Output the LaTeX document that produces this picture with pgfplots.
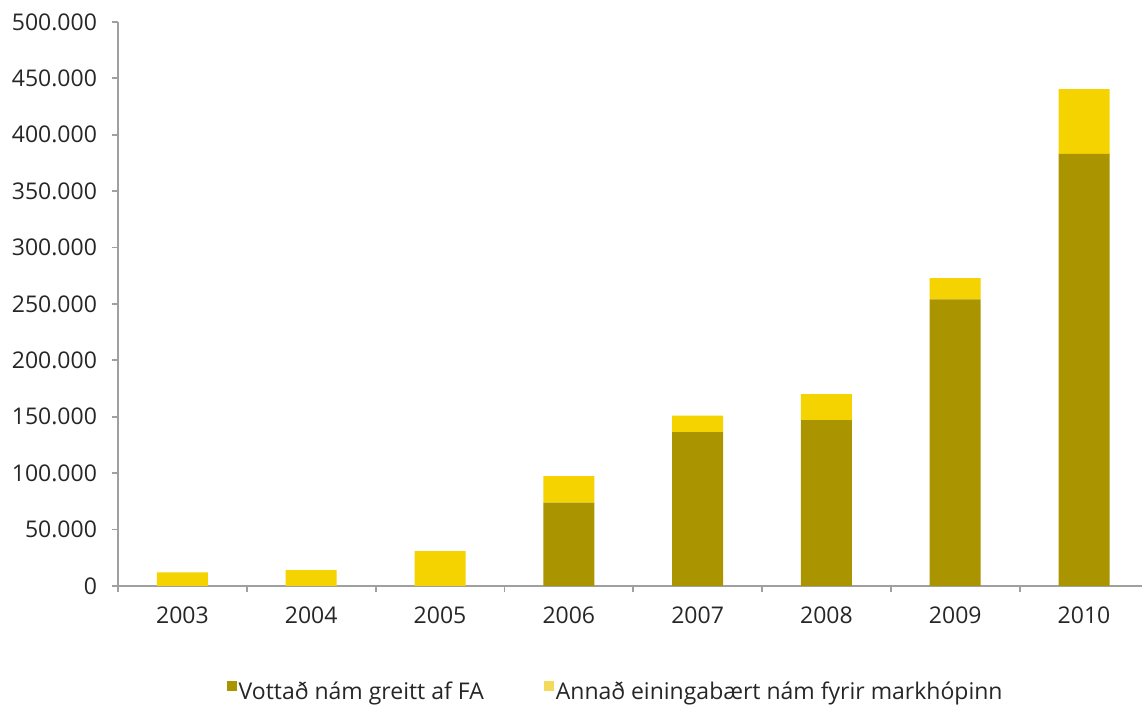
\documentclass[border=0pt]{standalone}
\usepackage{fontspec}
\setmainfont{Open Sans}
\usepackage{pgfplots}
\pgfplotsset{compat=1.18}
\definecolor{olivebar}{RGB}{170,148,0}
\definecolor{goldbar}{RGB}{244,211,0}
\definecolor{goldlight}{RGB}{244,218,90}
\definecolor{axisgray}{RGB}{160,160,160}
\begin{document}
\begin{tikzpicture}
\begin{axis}[
  at={(59pt,60pt)}, anchor=south west,
  scale only axis, width=512pt, height=282pt,
  ybar stacked, bar width=25.5pt,
  xmin=-0.5, xmax=7.45, ymin=0, ymax=500000,
  enlargelimits=false,
  axis x line*=bottom, axis y line*=left,
  axis line style={axisgray, line width=0.9pt, -},
  xtick={0,...,7}, xticklabels={2003,2004,2005,2006,2007,2008,2009,2010},
  minor xtick={-0.5,0.5,...,6.5},
  ytick={0,50000,100000,150000,200000,250000,300000,350000,400000,450000,500000},
  yticklabels={0,50.000,100.000,150.000,200.000,250.000,300.000,350.000,400.000,450.000,500.000},
  tick align=outside, major tick length=3pt, minor tick length=3pt,
  every tick/.style={axisgray, line width=0.9pt},
  major x tick style={draw=none},
  scaled y ticks=false,
  tick label style={font=\fontsize{11.5}{13}\selectfont, text=black!85},
  yticklabel style={xshift=-4pt},
  xticklabel style={yshift=-4pt},
  legend style={at={(0.486,-0.188)}, anchor=center, draw=none, fill=none,
    legend columns=2, font=\fontsize{11.5}{13}\selectfont, text=black!85,
    /tikz/every even column/.append style={column sep=29pt},
    nodes={inner xsep=1pt}},
]
\addplot[fill=olivebar, draw=none,
  legend image code/.code={\fill[olivebar] (0pt,0.3pt) rectangle (5pt,5.3pt);}]
  coordinates {(0,0) (1,0) (2,0) (3,74000) (4,136500) (5,147000) (6,254000) (7,383000)};
\addlegendentry{Vottað nám greitt af FA}
\addplot[fill=goldbar, draw=none,
  legend image code/.code={\fill[goldlight] (0pt,0.3pt) rectangle (5pt,5.3pt);}]
  coordinates {(0,12000) (1,14000) (2,31000) (3,23500) (4,14500) (5,23000) (6,19000) (7,57500)};
\addlegendentry{Annað einingabært nám fyrir markhópinn}
\end{axis}
\pgfresetboundingbox
\useasboundingbox (0,0) rectangle (571pt,353pt);
\end{tikzpicture}
\end{document}
